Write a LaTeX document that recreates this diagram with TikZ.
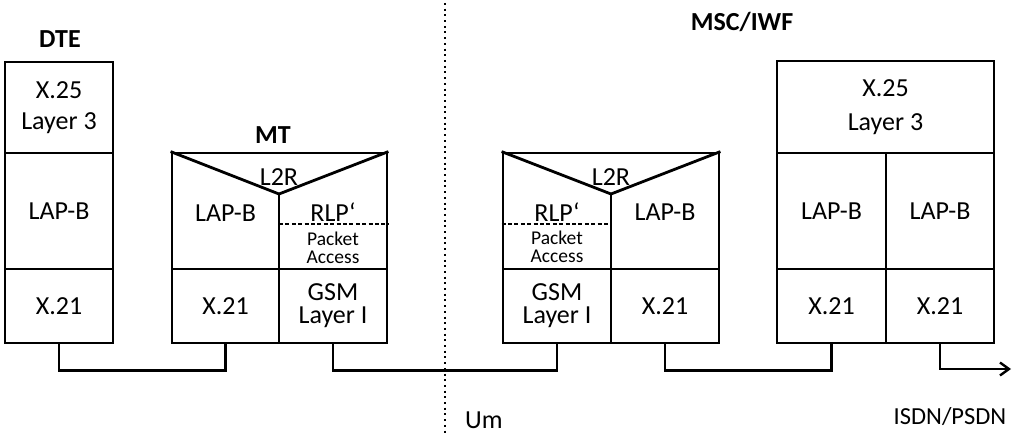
\documentclass[tikz,border=0pt]{standalone}
\usepackage{fontspec}
\setmainfont{Carlito}
\usetikzlibrary{arrows.meta}
\tikzset{
  cell/.style={draw, line width=2.8pt, inner sep=0pt, align=center,
    font=\fontsize{26}{31}\selectfont},
  small/.style={font=\fontsize{19.5}{18.5}\selectfont, align=center, inner sep=0pt},
  txt/.style={font=\fontsize{26}{31}\selectfont, align=center, inner sep=0pt},
  title/.style={font=\bfseries\fontsize{26}{28}\selectfont, inner sep=0pt},
  wire/.style={line width=2.8pt},
  vee/.style={line width=2.8pt, line join=miter},
  sublayer/.style={line width=1.5pt, dash pattern=on 4pt off 2.4pt},
}
\begin{document}
\begin{tikzpicture}[x=1pt, y=-1pt]
\useasboundingbox (0,0) rectangle (1014,436);
\fill[white] (0,0) rectangle (1014,436);

% air interface
\draw[line width=2pt, dash pattern=on 2pt off 3.7pt] (445,3) coordinate (umtop) -- (445,436) coordinate (umbot);
\node[txt, anchor=west] (um) at (465,420) {Um};
\node[txt, font=\fontsize{24.5}{30}\selectfont] (isdn) at (950,417) {ISDN/PSDN};

% DTE stack
\node[title] (dte) at (60,39) {DTE};
\node[cell, minimum width=108pt, minimum height=91pt] (dteL3) at (59,107.5) {X.25\\Layer 3};
\node[cell, minimum width=108pt, minimum height=116pt] (dteLapb) at (59,211) {LAP-B};
\node[cell, minimum width=108pt, minimum height=74pt] (dteX21) at (59,306) {X.21};

% MT stack
\node[title] (mt) at (273,135) {MT};
\node[cell, minimum width=215pt, minimum height=116pt] (mtUp) at (279.5,211) {};
\coordinate (mtApex) at (279,194);
\draw[vee] (mtUp.north west) -- (mtApex) -- (mtUp.north east);
\draw[wire] (mtApex) -- (mtApex |- mtUp.south);
\draw[sublayer] (279,224) -- (mtUp.east |- 0,224);
\node[txt] (mtL2R) at (279,177) {L2R};
\node[txt] (mtLapb) at (225.5,213) {LAP-B};
\node[txt] (mtRlp) at (333,212) {RLP‘};
\node[small] (mtPa) at (333,248) {Packet\\Access};
\node[cell, minimum width=107pt, minimum height=74pt] (mtX21) at (225.5,306) {X.21};
\node[cell, minimum width=108pt, minimum height=74pt, font=\fontsize{26}{23}\selectfont] (mtGsm) at (333,306) {GSM\\Layer I};

% network-side relay stack
\node[cell, minimum width=216pt, minimum height=116pt] (bsUp) at (611,211) {};
\coordinate (bsApex) at (611,194);
\draw[vee] (bsUp.north west) -- (bsApex) -- (bsUp.north east);
\draw[wire] (bsApex) -- (bsApex |- bsUp.south);
\draw[sublayer] (bsUp.west |- 0,224) -- (611,224);
\node[txt] (bsL2R) at (611,177) {L2R};
\node[txt] (bsRlp) at (557,212) {RLP‘};
\node[txt] (bsLapb) at (665,212) {LAP-B};
\node[small] (bsPa) at (557,247) {Packet\\Access};
\node[cell, minimum width=108pt, minimum height=74pt, font=\fontsize{26}{23}\selectfont] (bsGsm) at (557,306) {GSM\\Layer I};
\node[cell, minimum width=108pt, minimum height=74pt] (bsX21) at (665,306) {X.21};

% MSC/IWF stack
\node[title] (msc) at (742,22) {MSC/IWF};
\node[cell, minimum width=217pt, minimum height=92pt, font=\fontsize{26}{34}\selectfont] (mscL3) at (885.5,107) {X.25\\Layer 3};
\node[cell, minimum width=109pt, minimum height=116pt] (mscLapbA) at (831.5,211) {LAP-B};
\node[cell, minimum width=108pt, minimum height=116pt] (mscLapbB) at (940,211) {LAP-B};
\node[cell, minimum width=109pt, minimum height=74pt] (mscX21A) at (831.5,306) {X.21};
\node[cell, minimum width=108pt, minimum height=74pt] (mscX21B) at (940,306) {X.21};

% physical links
\draw[wire] (dteX21.south) -- ++(0,26) -| (mtX21.south);
\draw[wire] (mtGsm.south) -- ++(0,26) -| (bsGsm.south);
\draw[wire] (bsX21.south) -- ++(0,26) -| (mscX21A.south);
\coordinate (out) at (1011,369);
\draw[wire, -{Straight Barb[length=9pt, width=13pt, line width=2.4pt]}] (mscX21B.south) |- (out);
\end{tikzpicture}
\end{document}
